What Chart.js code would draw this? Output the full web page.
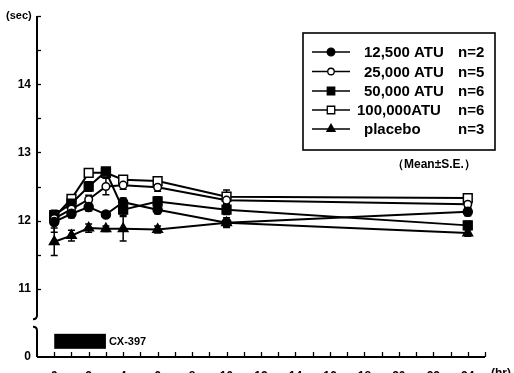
<!DOCTYPE html>
<html>
<head>
<meta charset="utf-8">
<script src="https://cdn.jsdelivr.net/npm/chart.js@4"></script>
<style>
  html, body { margin: 0; padding: 0; background: #fff; overflow: hidden; }
  canvas { display: block; }
</style>
</head>
<body>
<canvas id="c" width="514" height="373"></canvas>
<script>
// Sampling times (hr) after the start of CX-397 administration
const hours = [0, 1, 2, 3, 4, 6, 10, 24];

// Mean values (sec) per dose group
const atu12500  = [11.98, 12.10, 12.20, 12.09, 12.27, 12.16, 11.97, 12.13];
const atu25000  = [12.03, 12.17, 12.31, 12.50, 12.52, 12.49, 12.30, 12.24];
const atu50000  = [12.08, 12.25, 12.50, 12.72, 12.16, 12.28, 12.16, 11.93];
const atu100000 = [12.05, 12.32, 12.70, 12.70, 12.60, 12.58, 12.35, 12.33];
const placebo   = [11.69, 11.78, 11.89, 11.88, 11.88, 11.87, 11.97, 11.82];

// Standard errors (sec)
const se12500  = [0.15, 0.06, 0.06, 0.04, 0.06, 0.06, 0.07, 0.06];
const se25000  = [0.06, 0.06, 0.06, 0.12, 0.06, 0.06, 0.06, 0.05];
const se50000  = [0.07, 0.07, 0.07, 0.05, 0.08, 0.07, 0.07, 0.06];
const se100000 = [0.07, 0.06, 0.04, 0.04, 0.05, 0.05, 0.10, 0.05];
const sePlacebo = [0.20, 0.08, 0.06, 0.04, 0.18, 0.05, 0.05, 0.05];

const seriesLabels = ['12,500 ATU', '25,000 ATU', '50,000 ATU', '100,000ATU', 'placebo'];
const groupSizes = ['n=2', 'n=5', 'n=6', 'n=6', 'n=3'];

// Dosing window drawn as a bar above the time axis (hr)
const dosingWindow = [0, 3];
const dosingLabel = 'CX-397';

// Axis tick labels: the bottom of the value axis is a broken "0"
const yTickLabels = { 10: '0', 11: '11', 12: '12', 13: '13', 14: '14' };
const xTickLabels = [0, 2, 4, 6, 8, 10, 12, 14, 16, 18, 20, 22, 24];

const FONT = "'Liberation Sans', Arial, sans-serif";

function pts(vals) { return hours.map((h, i) => ({ x: h, y: vals[i] })); }

const styles = [
  { pointStyle: 'circle',   radius: 4.5, fill: '#000' },
  { pointStyle: 'circle',   radius: 3.8, fill: '#fff' },
  { pointStyle: 'rect',     radius: 6.2, fill: '#000' },
  { pointStyle: 'rect',     radius: 6.2, fill: '#fff' },
  { pointStyle: 'triangle', radius: 5.5, fill: '#000' }
];
const values = [atu12500, atu25000, atu50000, atu100000, placebo];
const errors = [se12500, se25000, se50000, se100000, sePlacebo];

const datasets = values.map((v, k) => ({
  label: seriesLabels[k],
  data: pts(v),
  se: errors[k],
  borderColor: '#000',
  borderWidth: 2,
  backgroundColor: styles[k].fill,
  pointStyle: styles[k].pointStyle,
  pointRadius: styles[k].radius,
  pointBackgroundColor: styles[k].fill,
  pointBorderColor: '#000',
  pointBorderWidth: 1.5,
  tension: 0,
  fill: false
}));

// Error bars, drawn under the markers
const errorBars = {
  id: 'errorBars',
  beforeDatasetsDraw(chart) {
    const { ctx, scales: { x, y } } = chart;
    ctx.save();
    ctx.strokeStyle = '#000';
    ctx.lineWidth = 1.5;
    chart.data.datasets.forEach(ds => {
      ds.data.forEach((p, i) => {
        const px = x.getPixelForValue(p.x);
        const top = y.getPixelForValue(p.y + ds.se[i]);
        const bot = y.getPixelForValue(p.y - ds.se[i]);
        ctx.beginPath();
        ctx.moveTo(px, top); ctx.lineTo(px, bot);
        ctx.moveTo(px - 3.5, top); ctx.lineTo(px + 3.5, top);
        ctx.moveTo(px - 3.5, bot); ctx.lineTo(px + 3.5, bot);
        ctx.stroke();
      });
    });
    ctx.restore();
  }
};

// Axes with inward ticks, the axis break, the dosing bar and free text
const decorations = {
  id: 'decorations',
  afterDraw(chart) {
    const { ctx, chartArea: a, scales: { x, y } } = chart;
    ctx.save();
    ctx.strokeStyle = '#000';
    ctx.fillStyle = '#000';
    ctx.lineWidth = 2;

    // time axis
    ctx.beginPath();
    ctx.moveTo(a.left, a.bottom); ctx.lineTo(a.right, a.bottom);
    ctx.stroke();
    ctx.lineWidth = 1.3;
    for (let h = 0; h <= 25; h++) {
      const px = Math.round(x.getPixelForValue(h)) + 0.5;
      ctx.beginPath();
      ctx.moveTo(px, a.bottom); ctx.lineTo(px, a.bottom - 5);
      ctx.stroke();
    }

    // value axis with a break between 0 and 11
    const yBreakTop = y.getPixelForValue(10.57);
    const yBreakBot = y.getPixelForValue(10.43);
    const ax = a.left;
    ctx.lineWidth = 2;
    ctx.beginPath();
    ctx.moveTo(ax, a.top); ctx.lineTo(ax, yBreakTop - 3);
    ctx.quadraticCurveTo(ax, yBreakTop + 1, ax - 4, yBreakTop + 1);
    ctx.stroke();
    ctx.beginPath();
    ctx.moveTo(ax - 4, yBreakBot - 1);
    ctx.quadraticCurveTo(ax, yBreakBot - 1, ax, yBreakBot + 3);
    ctx.lineTo(ax, a.bottom);
    ctx.stroke();
    ctx.lineWidth = 1.3;
    for (let v = 11; v <= 15; v += 0.5) {
      const py = Math.round(y.getPixelForValue(v)) + 0.5;
      ctx.beginPath();
      ctx.moveTo(ax, py); ctx.lineTo(ax + 4, py);
      ctx.stroke();
    }

    // dosing bar
    const bx0 = x.getPixelForValue(dosingWindow[0]);
    const bx1 = x.getPixelForValue(dosingWindow[1]);
    const by0 = y.getPixelForValue(10.34);
    const by1 = y.getPixelForValue(10.12);
    ctx.fillRect(bx0, by0, bx1 - bx0, by1 - by0);
    ctx.font = `bold 11px ${FONT}`;
    ctx.textBaseline = 'middle';
    ctx.textAlign = 'left';
    ctx.fillText(dosingLabel, bx1 + 3, (by0 + by1) / 2 + 1);

    // units
    ctx.font = `bold 11px ${FONT}`;
    ctx.textAlign = 'left';
    ctx.fillText('(sec)', 6, a.top);
    ctx.font = `bold 12px ${FONT}`;
    ctx.textBaseline = 'top';
    ctx.fillText('(hr)', 491, 368);

    // legend
    const L = { left: 303, top: 33, right: 495, bottom: 150 };
    ctx.lineWidth = 1.6;
    ctx.strokeRect(L.left, L.top, L.right - L.left, L.bottom - L.top);
    const rowY = [52, 71.5, 91, 110, 129];
    chart.data.datasets.forEach((ds, k) => {
      const ry = rowY[k];
      ctx.lineWidth = 1.5;
      ctx.strokeStyle = '#000';
      ctx.beginPath();
      ctx.moveTo(312, ry); ctx.lineTo(350, ry);
      ctx.stroke();
      ctx.fillStyle = ds.pointBackgroundColor;
      ctx.lineWidth = 1.3;
      Chart.helpers.drawPoint(ctx, {
        pointStyle: ds.pointStyle,
        rotation: 0,
        radius: ds.pointRadius * 0.85,
        borderWidth: 1.3
      }, 331, ry);
      ctx.fillStyle = '#000';
      ctx.font = `bold 15px ${FONT}`;
      ctx.textBaseline = 'middle';
      ctx.textAlign = 'left';
      ctx.fillText(ds.label, k === 3 ? 357 : 364, ry + 1);
      ctx.fillText(groupSizes[k], 458, ry + 1);
    });
    ctx.font = `bold 12px ${FONT}`;
    ctx.textBaseline = 'middle';
    ctx.fillText('（Mean±S.E.）', 392, 165);
    ctx.restore();
  }
};

new Chart(document.getElementById('c'), {
  type: 'line',
  data: { datasets },
  options: {
    responsive: false,
    animation: false,
    devicePixelRatio: 1,
    layout: { padding: { top: 16, right: 29, left: 0, bottom: 0 } },
    plugins: { legend: { display: false }, tooltip: { enabled: false } },
    scales: {
      x: {
        type: 'linear',
        min: -1,
        max: 25,
        grid: { display: false, drawTicks: false },
        border: { display: false },
        afterFit(s) { s.height = 16; },
        ticks: {
          stepSize: 1,
          autoSkip: false,
          maxRotation: 0,
          padding: 12,
          color: '#000',
          font: { family: FONT, size: 12, weight: 'bold' },
          callback: v => (xTickLabels.includes(v) ? String(v) : '')
        }
      },
      y: {
        min: 10,
        max: 15,
        grid: { display: false, drawTicks: false },
        border: { display: false },
        afterFit(s) { s.width = 37; },
        ticks: {
          stepSize: 0.5,
          autoSkip: false,
          padding: 6,
          color: '#000',
          font: { family: FONT, size: 12, weight: 'bold' },
          callback: v => (yTickLabels[v] !== undefined ? yTickLabels[v] : '')
        }
      }
    }
  },
  plugins: [errorBars, decorations]
});
</script>
</body>
</html>
